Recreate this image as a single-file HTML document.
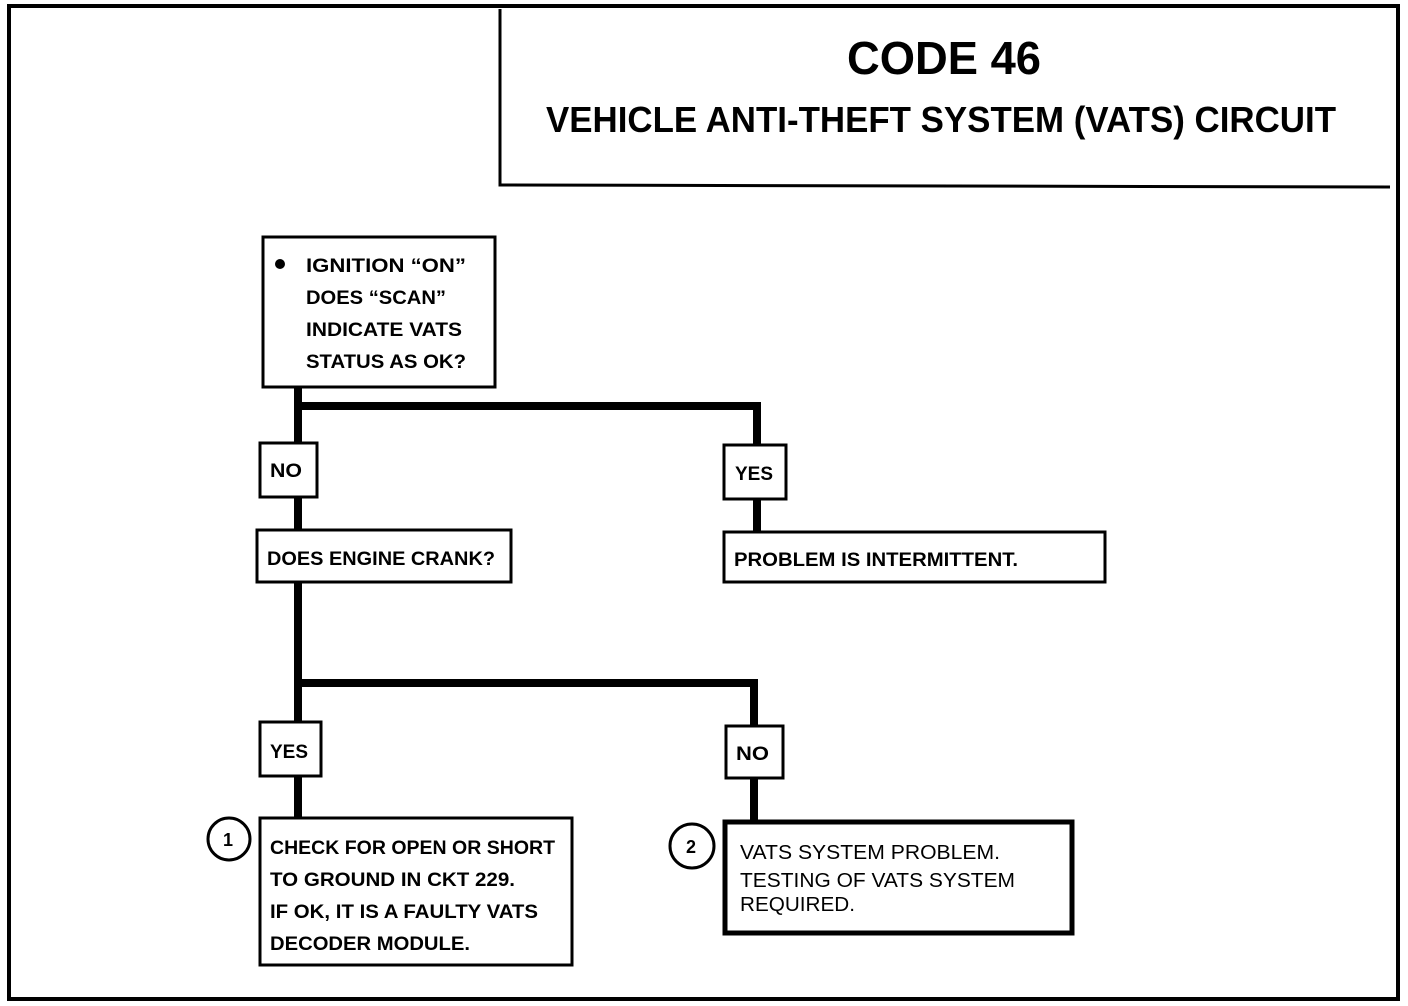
<!DOCTYPE html>
<html><head><meta charset="utf-8"><style>
html,body{margin:0;padding:0;background:#fff;}
svg{display:block}
text{font-family:"Liberation Sans",sans-serif;font-weight:bold;fill:#000}
</style></head><body>
<svg width="1408" height="1006" viewBox="0 0 1408 1006" xmlns="http://www.w3.org/2000/svg">
<g fill="none" stroke="#000">
<!-- outer frame -->
<path d="M9 6 L1398 6 L1398 999 L9 999 Z" stroke-width="4"/>
<!-- title box -->
<path d="M500 9 L500 185 L1390 187" stroke-width="3"/>
<!-- box1 -->
<rect x="263" y="237" width="232" height="150" stroke-width="3"/>
<!-- connectors -->
<path d="M298 387 L298 443 M298 497 L298 530 M298 582 L298 722 M298 776 L298 818" stroke-width="8"/>
<path d="M294 406 L757 406 L757 445 M757 499 L757 532" stroke-width="8"/>
<path d="M294 683 L754 683 L754 726 M754 778 L754 820" stroke-width="8"/>
<!-- label boxes -->
<rect x="260" y="443" width="57" height="54" stroke-width="3"/>
<rect x="724" y="445" width="62" height="54" stroke-width="3"/>
<rect x="257" y="530" width="254" height="52" stroke-width="3"/>
<rect x="724" y="532" width="381" height="50" stroke-width="3"/>
<rect x="260" y="722" width="61" height="54" stroke-width="3"/>
<rect x="726" y="726" width="57" height="52" stroke-width="3"/>
<rect x="260" y="818" width="312" height="147" stroke-width="3"/>
<rect x="725" y="822" width="347" height="111" stroke-width="5"/>
<circle cx="229" cy="839" r="21" stroke-width="3"/>
<circle cx="692" cy="846" r="22" stroke-width="3"/>
</g>
<text x="944" y="74" font-size="46" text-anchor="middle" textLength="194" lengthAdjust="spacingAndGlyphs">CODE 46</text>
<text x="546" y="132" font-size="36" textLength="790" lengthAdjust="spacingAndGlyphs">VEHICLE ANTI-THEFT SYSTEM (VATS) CIRCUIT</text>
<circle cx="280" cy="264" r="5" fill="#000"/>
<g font-size="19">
<text x="306" y="272" textLength="160" lengthAdjust="spacingAndGlyphs">IGNITION “ON”</text>
<text x="306" y="304" textLength="140" lengthAdjust="spacingAndGlyphs">DOES “SCAN”</text>
<text x="306" y="336" textLength="156" lengthAdjust="spacingAndGlyphs">INDICATE VATS</text>
<text x="306" y="368" textLength="160" lengthAdjust="spacingAndGlyphs">STATUS AS OK?</text>
<text x="270" y="477" textLength="32" lengthAdjust="spacingAndGlyphs">NO</text>
<text x="735" y="480" textLength="38" lengthAdjust="spacingAndGlyphs">YES</text>
<text x="267" y="565" textLength="228" lengthAdjust="spacingAndGlyphs">DOES ENGINE CRANK?</text>
<text x="734" y="566" textLength="284" lengthAdjust="spacingAndGlyphs">PROBLEM IS INTERMITTENT.</text>
<text x="270" y="758" textLength="38" lengthAdjust="spacingAndGlyphs">YES</text>
<text x="736" y="760" textLength="33" lengthAdjust="spacingAndGlyphs">NO</text>
<text x="270" y="854" textLength="285" lengthAdjust="spacingAndGlyphs">CHECK FOR OPEN OR SHORT</text>
<text x="270" y="886" textLength="245" lengthAdjust="spacingAndGlyphs">TO GROUND IN CKT 229.</text>
<text x="270" y="918" textLength="268" lengthAdjust="spacingAndGlyphs">IF OK, IT IS A FAULTY VATS</text>
<text x="270" y="950" textLength="200" lengthAdjust="spacingAndGlyphs">DECODER MODULE.</text>
<text x="223" y="846" font-size="18">1</text>
<text x="686" y="853" font-size="18">2</text>
</g>
<g font-size="20" font-weight="normal">
<text x="740" y="859" textLength="260" lengthAdjust="spacingAndGlyphs" style="font-weight:normal">VATS SYSTEM PROBLEM.</text>
<text x="740" y="887" textLength="275" lengthAdjust="spacingAndGlyphs" style="font-weight:normal">TESTING OF VATS SYSTEM</text>
<text x="740" y="911" textLength="115" lengthAdjust="spacingAndGlyphs" style="font-weight:normal">REQUIRED.</text>
</g>
</svg>
</body></html>
